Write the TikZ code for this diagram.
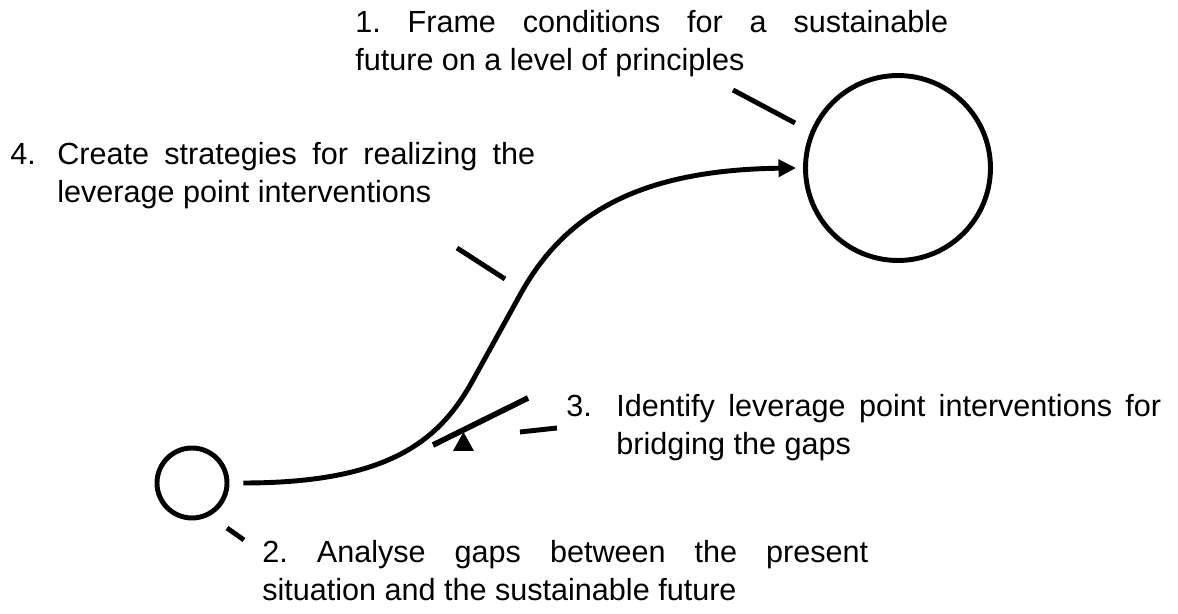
\documentclass[tikz,border=0pt]{standalone}
\usepackage{fontspec}
\setmainfont{Liberation Sans}
\usetikzlibrary{arrows.meta}
\tolerance=10000
\frenchspacing

\begin{document}
\begin{tikzpicture}[x=0.02cm, y=-0.02cm,
  txt/.style={anchor=north west, inner sep=0pt, align=justify, font=\fontsize{17.4}{21.5}\selectfont},
  ring/.style={circle, draw, line width=2.8pt, inner sep=0pt, minimum size=#1},
  tick/.style={line width=2.8pt}]

\useasboundingbox (0,0) rectangle (1178,614);

% circles
\node (present) [ring=1.4cm] at (192,483) {};
\node (future) [ring=3.7cm] at (898,168) {};

% path
\draw [line width=2.8pt, -{Triangle[length=10pt,width=9.6pt]}] ([xshift=0.28cm]present.east) .. controls (390,483) and (440,440) .. (473,380) -- (520,295) .. controls (565,213) and (640,170) .. ([xshift=-0.14cm]future.west);

% lever
\draw [line width=3.2pt] (433,445) -- (528,398);
\fill (453,451) -- (474,451) -- (463.5,432) -- cycle;

% ticks
\draw [tick] (733,90) -- (795,123);
\draw [tick] (457,248) -- (505,279);
\draw [tick] (520,432) -- (557,428);
\draw [tick] (227,528) -- (244,540);

% labels
\node (frame) [txt, text width=11.86cm] at (355,10.5) {1. Frame conditions for a sustainable\linebreak future on a level of principles};
\node (strategies) [txt, text width=10.5cm] at (10,142.5) {\hangindent=0.94cm\hangafter=1\makebox[0.94cm][l]{4.}Create strategies for realizing the\linebreak leverage point interventions\par};
\node (interventions) [txt, text width=11.9cm] at (566,394.5) {\hangindent=1cm\hangafter=1\makebox[1cm][l]{3.}Identify leverage point interventions for\linebreak bridging the gaps\par};
\node (gaps) [txt, text width=12.12cm] at (262,540.5) {2. Analyse gaps between the present\linebreak situation and the sustainable future};

\end{tikzpicture}
\end{document}
